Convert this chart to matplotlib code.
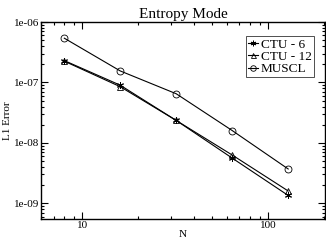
import matplotlib
matplotlib.use("Agg")
import matplotlib.pyplot as plt
from matplotlib.ticker import LogLocator, FuncFormatter, NullFormatter

plt.rcParams['font.family'] = ['Liberation Serif', 'DejaVu Serif']

# data
N = [8, 16, 32, 64, 128]
ctu6 = [2.3e-7, 9.0e-8, 2.35e-8, 5.6e-9, 1.35e-9]
ctu12 = [2.25e-7, 8.5e-8, 2.35e-8, 6.3e-9, 1.6e-9]
muscl = [5.4e-7, 1.55e-7, 6.5e-8, 1.6e-8, 3.7e-9]

fig = plt.figure(figsize=(3.26, 2.42), dpi=100)
ax = fig.add_axes([0.126, 0.095, 0.871, 0.814])

ax.loglog(N, ctu6, color='black', lw=0.8, marker=(6, 2, 0), ms=5, mew=0.7, label='CTU - 6')
ax.loglog(N, ctu12, color='black', lw=0.8, marker='^', ms=4.5, mfc='none', mew=0.6, label='CTU - 12')
ax.loglog(N, muscl, color='black', lw=0.8, marker='o', ms=5, mfc='none', mew=0.6, label='MUSCL')

ax.set_xlim(6.0, 202)
ax.set_ylim(5.5e-10, 1e-6)

ax.yaxis.set_major_locator(LogLocator(base=10, numticks=10))
ax.yaxis.set_major_formatter(FuncFormatter(lambda v, p: '%.0e' % v))
ax.yaxis.set_minor_locator(LogLocator(base=10, subs=range(2, 10), numticks=10))
ax.yaxis.set_minor_formatter(NullFormatter())
ax.xaxis.set_minor_locator(LogLocator(base=10, subs=range(2, 10), numticks=10))
ax.xaxis.set_minor_formatter(NullFormatter())
ax.xaxis.set_major_formatter(FuncFormatter(lambda v, p: '%g' % v))

ax.tick_params(which='both', direction='in', top=True, right=True, labelsize=8, width=0.8)
ax.tick_params(which='major', length=5, pad=1.5)
ax.tick_params(which='minor', length=2.5, labelbottom=False, labelleft=False)
for s in ax.spines.values():
    s.set_linewidth(1.0)

ax.set_xlabel('N', fontsize=8, labelpad=0)
ax.set_ylabel('L1 Error', fontsize=8, labelpad=1)
ax.set_title('Entropy Mode', fontsize=11, pad=3)

leg = ax.legend(loc='upper right', bbox_to_anchor=(0.97, 0.94), fontsize=9.5, frameon=True,
                fancybox=False, edgecolor='black', handlelength=0.8, handletextpad=0.2,
                borderpad=0.15, labelspacing=0.0, borderaxespad=0.2, markerscale=0.8)
leg.get_frame().set_linewidth(0.6)

fig.savefig('out.png', dpi=100)
